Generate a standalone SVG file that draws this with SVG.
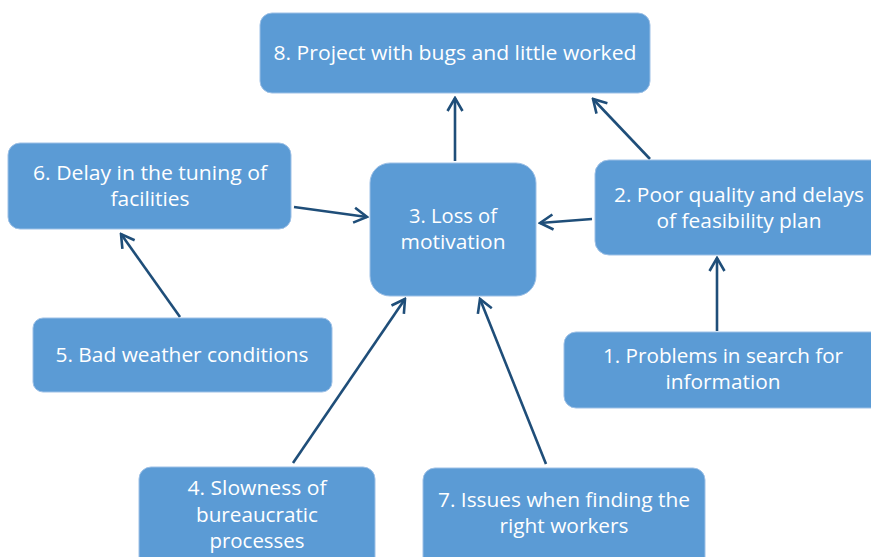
<svg xmlns="http://www.w3.org/2000/svg" width="871" height="557" viewBox="0 0 871 557">
<style>
.box{fill:#5B9BD5;stroke:#9DC0E6;stroke-width:1}
.t{font-family:"Open Sans","Noto Sans",sans-serif;font-size:20px;fill:#FFFFFF;text-anchor:middle}
.c{stroke:#1F4E79;stroke-width:2.6;fill:none;marker-end:url(#ah)}
</style>
<defs>
<marker id="ah" viewBox="-16 -10 18 20" refX="0" refY="0" markerWidth="18" markerHeight="20" markerUnits="userSpaceOnUse" orient="auto">
<path d="M-13,-7.5 L0,0 L-13,7.5" fill="none" stroke="#1F4E79" stroke-width="2.6"/>
</marker>
</defs>
<rect width="871" height="557" fill="#FFFFFF"/>
<g id="connectors">
<line class="c" x1="455" y1="161" x2="455" y2="98"/>
<line class="c" x1="650" y1="159" x2="593" y2="99"/>
<line class="c" x1="592" y1="219" x2="540" y2="223"/>
<line class="c" x1="294" y1="207" x2="367" y2="217"/>
<line class="c" x1="180" y1="317" x2="121" y2="234"/>
<line class="c" x1="717" y1="331" x2="717" y2="258"/>
<line class="c" x1="293" y1="463" x2="405" y2="299"/>
<line class="c" x1="546" y1="464" x2="480" y2="299"/>
</g>
<g id="node8">
<rect class="box" x="260" y="13" width="390" height="80" rx="12"/>
<text class="t" x="455" y="60" textLength="363" lengthAdjust="spacingAndGlyphs">8. Project with bugs and little worked</text>
</g>
<g id="node3">
<rect class="box" x="370" y="163" width="166" height="133" rx="20"/>
<text class="t" x="453" y="223" textLength="88" lengthAdjust="spacingAndGlyphs">3. Loss of</text>
<text class="t" x="453" y="249" textLength="105" lengthAdjust="spacingAndGlyphs">motivation</text>
</g>
<g id="node2">
<rect class="box" x="595" y="160" width="290" height="95" rx="14"/>
<text class="t" x="739" y="202" textLength="250" lengthAdjust="spacingAndGlyphs">2. Poor quality and delays</text>
<text class="t" x="739" y="228" textLength="165" lengthAdjust="spacingAndGlyphs">of feasibility plan</text>
</g>
<g id="node1">
<rect class="box" x="564" y="332" width="320" height="76" rx="12"/>
<text class="t" x="723" y="363" textLength="240" lengthAdjust="spacingAndGlyphs">1. Problems in search for</text>
<text class="t" x="723" y="389" textLength="115" lengthAdjust="spacingAndGlyphs">information</text>
</g>
<g id="node6">
<rect class="box" x="8" y="143" width="283" height="86" rx="12"/>
<text class="t" x="150" y="180" textLength="234" lengthAdjust="spacingAndGlyphs">6. Delay in the tuning of</text>
<text class="t" x="150" y="206" textLength="79" lengthAdjust="spacingAndGlyphs">facilities</text>
</g>
<g id="node5">
<rect class="box" x="33" y="318" width="299" height="74" rx="10"/>
<text class="t" x="182" y="362" textLength="253" lengthAdjust="spacingAndGlyphs">5. Bad weather conditions</text>
</g>
<g id="node4">
<rect class="box" x="139" y="467" width="236" height="110" rx="12"/>
<text class="t" x="257" y="495" textLength="139" lengthAdjust="spacingAndGlyphs">4. Slowness of</text>
<text class="t" x="257" y="522" textLength="122" lengthAdjust="spacingAndGlyphs">bureaucratic</text>
<text class="t" x="257" y="548" textLength="95" lengthAdjust="spacingAndGlyphs">processes</text>
</g>
<g id="node7">
<rect class="box" x="423" y="468" width="282" height="110" rx="12"/>
<text class="t" x="564" y="507" textLength="252" lengthAdjust="spacingAndGlyphs">7. Issues when finding the</text>
<text class="t" x="564" y="533" textLength="129" lengthAdjust="spacingAndGlyphs">right workers</text>
</g>
</svg>
